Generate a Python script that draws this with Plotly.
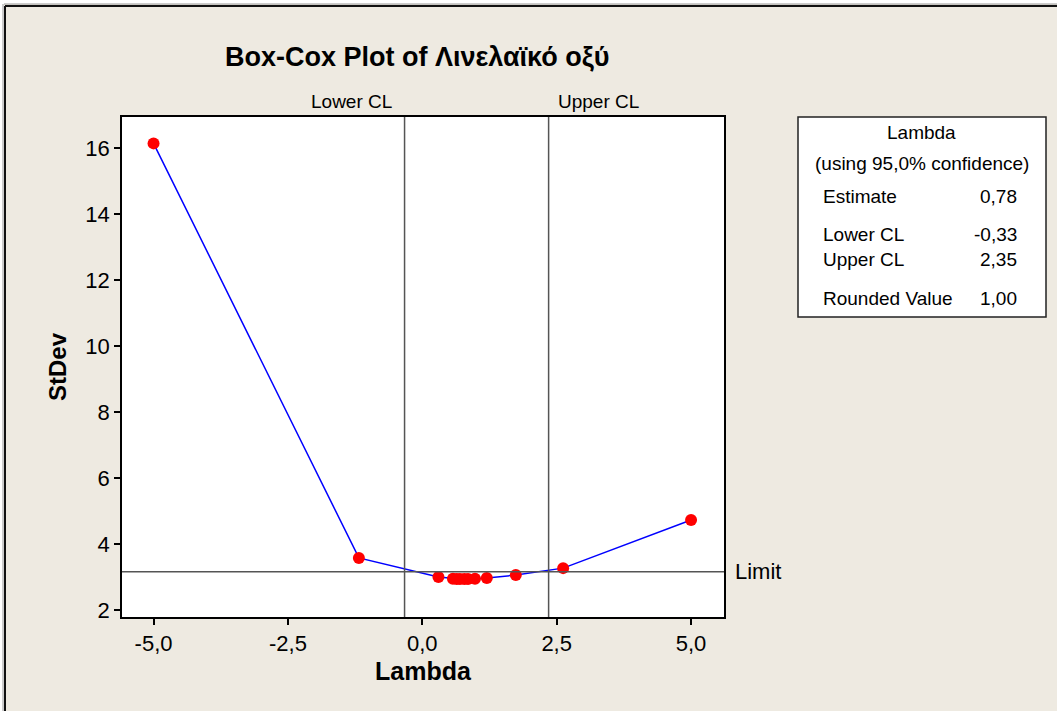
import plotly.graph_objects as go

# Box-Cox evaluation: lambda vs. pooled standard deviation
lambdas = [-5.0, -1.18, 0.30, 0.57, 0.64, 0.70, 0.78, 0.85, 0.98, 1.20, 1.74, 2.62, 5.0]
stdevs = [16.15, 3.58, 3.00, 2.95, 2.94, 2.94, 2.94, 2.94, 2.95, 2.97, 3.06, 3.27, 4.73]

lower_cl = -0.33
upper_cl = 2.35
limit = 3.16

x_tickvals = [-5.0, -2.5, 0.0, 2.5, 5.0]
x_ticktext = ["-5,0", "-2,5", "0,0", "2,5", "5,0"]
y_tickvals = [2, 4, 6, 8, 10, 12, 14, 16]

summary_labels = ["Estimate", "Lower CL", "Upper CL", "Rounded Value"]
summary_values = ["0,78", "-0,33", "2,35", "1,00"]

W, H = 1057, 711
L, R, T, B = 122, 724, 117, 617  # plot area edges in pixels


def px(x):
    return (x - L) / (R - L)


def py(y):
    return (B - y) / (B - T)


BEIGE = "#EEEAE1"
FONT = "Liberation Sans, Arial, sans-serif"
BOX_FONT = dict(family=FONT, size=19, color="black")

fig = go.Figure()
fig.add_trace(go.Scatter(
    x=lambdas, y=stdevs, mode="lines+markers",
    line=dict(color="#0000FF", width=1.5),
    marker=dict(color="#FF0000", size=12),
    showlegend=False, hoverinfo="x+y",
))

shapes = []
# confidence limit verticals and the limit horizontal
for v in (lower_cl, upper_cl):
    shapes.append(dict(type="line", xref="x", yref="paper", x0=v, x1=v, y0=0, y1=1,
                       line=dict(color="#555555", width=1.5)))
shapes.append(dict(type="line", xref="paper", yref="y", x0=0, x1=1, y0=limit, y1=limit,
                   line=dict(color="#555555", width=1.5)))

# white strip outside the window frame and the dark frame edges
shapes += [
    dict(type="rect", xref="paper", yref="paper", x0=px(0), x1=px(W), y0=py(0), y1=py(4),
         fillcolor="white", line=dict(width=0), layer="below"),
    dict(type="rect", xref="paper", yref="paper", x0=px(0), x1=px(4), y0=py(0), y1=py(H),
         fillcolor="white", line=dict(width=0), layer="below"),
    dict(type="line", xref="paper", yref="paper", x0=px(5), x1=px(W), y0=py(6), y1=py(6),
         line=dict(color="#111111", width=2)),
    dict(type="line", xref="paper", yref="paper", x0=px(5), x1=px(5), y0=py(6), y1=py(H),
         line=dict(color="#111111", width=2)),
    dict(type="line", xref="paper", yref="paper", x0=px(4), x1=px(W), y0=py(4), y1=py(4),
         line=dict(color="#999999", width=1)),
    dict(type="line", xref="paper", yref="paper", x0=px(3), x1=px(3), y0=py(4), y1=py(H),
         line=dict(color="#999999", width=1)),
]

# summary box
shapes.append(dict(type="rect", xref="paper", yref="paper",
                   x0=px(798), x1=px(1046), y0=py(117), y1=py(317),
                   fillcolor="white", line=dict(color="#222222", width=1.5)))

ann = []
ann.append(dict(text="<b>Box-Cox Plot of Λινελαϊκό οξύ</b>", x=px(417), y=py(57),
                xref="paper", yref="paper", showarrow=False, xanchor="center", yanchor="middle",
                font=dict(family=FONT, size=27, color="black")))
ann.append(dict(text="Lower CL", x=lower_cl, xref="x", y=py(102), yref="paper",
                xshift=-11, showarrow=False, xanchor="right", yanchor="middle",
                font=dict(family=FONT, size=19, color="black")))
ann.append(dict(text="Upper CL", x=upper_cl, xref="x", y=py(102), yref="paper",
                xshift=7, showarrow=False, xanchor="left", yanchor="middle",
                font=dict(family=FONT, size=19, color="black")))
ann.append(dict(text="Limit", x=px(733), xref="paper", y=limit, yref="y",
                showarrow=False, xanchor="left", yanchor="middle",
                font=dict(family=FONT, size=22, color="black")))

ann.append(dict(text="Lambda", x=px(921), y=py(132), xref="paper", yref="paper",
                showarrow=False, xanchor="center", yanchor="middle", font=BOX_FONT))
ann.append(dict(text="(using 95,0% confidence)", x=px(922), y=py(163), xref="paper", yref="paper",
                showarrow=False, xanchor="center", yanchor="middle", font=BOX_FONT))
rows_y = [196, 234, 259, 298]
for lab, val, yy in zip(summary_labels, summary_values, rows_y):
    ann.append(dict(text=lab, x=px(821), y=py(yy), xref="paper", yref="paper",
                    showarrow=False, xanchor="left", yanchor="middle", font=BOX_FONT))
    ann.append(dict(text=val, x=px(1019), y=py(yy), xref="paper", yref="paper",
                    showarrow=False, xanchor="right", yanchor="middle", font=BOX_FONT))

fig.update_layout(
    width=W, height=H,
    margin=dict(l=L, r=W - R, t=T, b=H - B, pad=0),
    paper_bgcolor=BEIGE, plot_bgcolor="white",
    shapes=shapes, annotations=ann,
    font=dict(family=FONT, color="black"),
    xaxis=dict(range=[-5.587, 5.613], tickvals=x_tickvals, ticktext=x_ticktext,
               ticks="outside", ticklen=6, tickwidth=1.5, tickcolor="black",
               showline=True, linecolor="black", linewidth=1.5, mirror=True,
               showgrid=False, zeroline=False,
               tickfont=dict(family=FONT, size=22, color="black"),
               title=dict(text="<b>Lambda</b>", font=dict(family=FONT, size=25, color="black"),
                          standoff=7)),
    yaxis=dict(range=[1.788, 16.95], tickvals=y_tickvals,
               ticks="outside", ticklen=6, tickwidth=1.5, tickcolor="black",
               showline=True, linecolor="black", linewidth=1.5, mirror=True,
               showgrid=False, zeroline=False,
               tickfont=dict(family=FONT, size=22, color="black"),
               title=dict(text="<b>StDev</b>", font=dict(family=FONT, size=24, color="black"),
                          standoff=12)),
)

fig.write_html("out.html")
